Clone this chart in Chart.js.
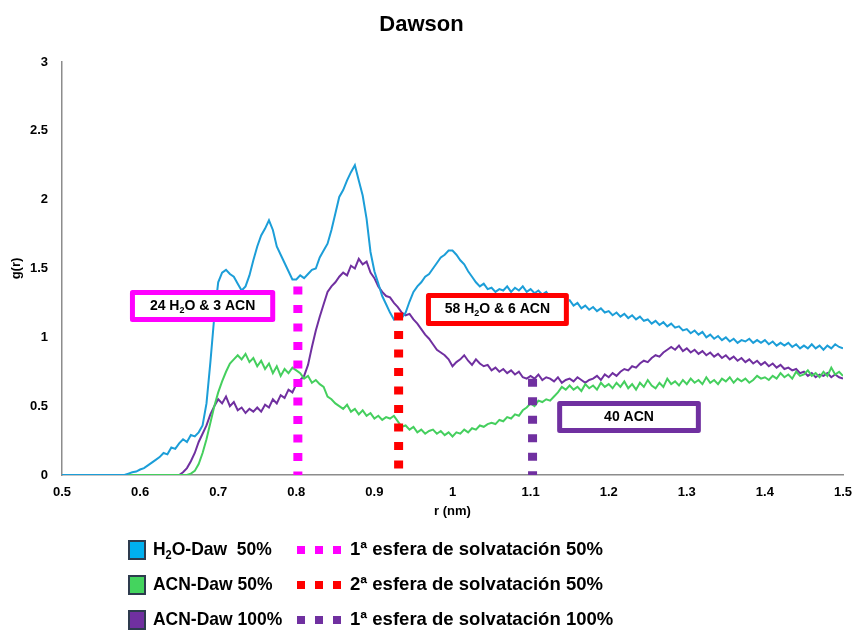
<!DOCTYPE html>
<html><head><meta charset="utf-8">
<script src="https://cdn.jsdelivr.net/npm/chart.js@4.4.1/dist/chart.umd.min.js"></script>
<style>html,body{margin:0;padding:0;background:#fff;}#wrap{width:853px;height:630px;}</style>
</head><body><div id="wrap"><canvas id="c" width="853" height="630"></canvas></div>
<script>
// sampling grid of r (nm)
const rStart = 0.5;
const rStep = 0.005;

// g(r) H2O-Daw 50%
const h2oDaw50 = [
0,0,0,0,0,0,0,0,0,0,
0,0,0,0,0,0,0,0.01,0.02,0.025,
0.04,0.05,0.07,0.09,0.11,0.13,0.16,0.15,0.20,0.19,
0.23,0.26,0.24,0.29,0.28,0.31,0.36,0.52,0.82,1.15,
1.40,1.47,1.49,1.46,1.44,1.39,1.34,1.37,1.45,1.56,
1.66,1.74,1.79,1.85,1.78,1.66,1.60,1.54,1.48,1.42,
1.42,1.45,1.43,1.46,1.49,1.50,1.58,1.63,1.68,1.78,
1.90,2.02,2.07,2.14,2.20,2.25,2.14,2.03,1.86,1.62,
1.48,1.39,1.30,1.24,1.18,1.13,1.15,1.14,1.18,1.26,
1.33,1.37,1.40,1.44,1.46,1.50,1.54,1.58,1.60,1.63,
1.63,1.60,1.56,1.53,1.48,1.44,1.40,1.37,1.39,1.35,
1.36,1.33,1.35,1.34,1.37,1.33,1.36,1.34,1.37,1.33,
1.35,1.32,1.34,1.31,1.33,1.29,1.31,1.27,1.29,1.26,
1.27,1.23,1.25,1.21,1.23,1.20,1.22,1.19,1.21,1.18,
1.19,1.16,1.18,1.15,1.17,1.14,1.16,1.13,1.15,1.12,
1.13,1.10,1.12,1.09,1.11,1.08,1.10,1.07,1.08,1.05,
1.06,1.03,1.05,1.02,1.04,1.00,1.02,0.99,1.01,0.98,
1.00,0.97,0.99,0.96,0.98,0.97,0.99,0.96,0.98,0.96,
0.98,0.95,0.97,0.94,0.96,0.94,0.96,0.93,0.95,0.92,
0.94,0.92,0.95,0.92,0.94,0.91,0.94,0.92,0.95,0.93,
0.92
];

// g(r) ACN-Daw 50%
const acnDaw50 = [
0,0,0,0,0,0,0,0,0,0,
0,0,0,0,0,0,0,0,0,0,
0,0,0,0,0,0,0,0,0,0,
0,0,0,0.01,0.03,0.08,0.16,0.26,0.38,0.50,
0.60,0.68,0.75,0.81,0.84,0.87,0.84,0.88,0.82,0.85,
0.79,0.83,0.77,0.81,0.74,0.79,0.72,0.77,0.74,0.78,
0.76,0.74,0.70,0.72,0.67,0.69,0.66,0.64,0.57,0.55,
0.52,0.50,0.48,0.51,0.46,0.48,0.44,0.47,0.43,0.45,
0.41,0.43,0.40,0.42,0.41,0.43,0.39,0.35,0.36,0.33,
0.35,0.31,0.33,0.30,0.32,0.33,0.30,0.32,0.29,0.31,
0.28,0.31,0.30,0.33,0.31,0.34,0.33,0.36,0.35,0.37,
0.38,0.37,0.40,0.39,0.42,0.41,0.44,0.43,0.47,0.49,
0.52,0.50,0.54,0.53,0.55,0.54,0.57,0.60,0.64,0.62,
0.65,0.62,0.64,0.61,0.66,0.63,0.65,0.62,0.67,0.64,
0.66,0.63,0.67,0.64,0.68,0.63,0.66,0.62,0.67,0.64,
0.69,0.65,0.63,0.67,0.64,0.70,0.66,0.68,0.65,0.69,
0.66,0.70,0.67,0.69,0.66,0.71,0.67,0.69,0.66,0.70,
0.68,0.71,0.67,0.70,0.68,0.70,0.67,0.69,0.72,0.70,
0.71,0.69,0.72,0.70,0.74,0.71,0.73,0.70,0.75,0.72,
0.73,0.76,0.72,0.74,0.71,0.75,0.72,0.78,0.73,0.75,
0.72
];

// g(r) ACN-Daw 100%
const acnDaw100 = [
0,0,0,0,0,0,0,0,0,0,
0,0,0,0,0,0,0,0,0,0,
0,0,0,0,0,0,0,0,0,0,
0,0.02,0.05,0.10,0.16,0.24,0.30,0.36,0.44,0.50,
0.55,0.52,0.57,0.50,0.53,0.47,0.49,0.45,0.48,0.46,
0.49,0.46,0.51,0.49,0.55,0.52,0.58,0.56,0.62,0.60,
0.66,0.69,0.72,0.80,0.93,1.05,1.15,1.24,1.33,1.37,
1.40,1.44,1.47,1.45,1.52,1.50,1.57,1.53,1.55,1.47,
1.43,1.37,1.33,1.30,1.29,1.25,1.22,1.18,1.16,1.17,
1.13,1.10,1.06,1.02,0.99,0.95,0.91,0.89,0.87,0.84,
0.79,0.82,0.84,0.87,0.83,0.80,0.84,0.81,0.79,0.80,
0.76,0.78,0.75,0.77,0.74,0.76,0.73,0.75,0.71,0.70,
0.72,0.70,0.73,0.69,0.71,0.70,0.68,0.71,0.67,0.69,
0.70,0.68,0.71,0.69,0.67,0.69,0.70,0.72,0.69,0.73,
0.71,0.74,0.72,0.75,0.77,0.76,0.79,0.78,0.81,0.83,
0.82,0.85,0.87,0.86,0.89,0.91,0.93,0.91,0.94,0.90,
0.92,0.89,0.91,0.88,0.90,0.87,0.89,0.86,0.88,0.85,
0.87,0.84,0.86,0.83,0.85,0.82,0.84,0.81,0.83,0.80,
0.82,0.79,0.81,0.78,0.80,0.77,0.78,0.76,0.77,0.74,
0.75,0.72,0.74,0.71,0.73,0.72,0.74,0.71,0.73,0.71,
0.70
];

// solvation shell markers
const shellR = [0.802, 0.931, 1.1025];
const shellTop = [1.37, 1.18, 0.70];
const shellNames = ['1ª esfera de solvatación 50%', '2ª esfera de solvatación 50%', '1ª esfera de solvatación 100%'];
const shellCounts = [
  [{t:'24 H'},{t:'2',sub:true},{t:'O & 3 ACN'}],
  [{t:'58 H'},{t:'2',sub:true},{t:'O & 6 ACN'}],
  [{t:'40 ACN'}]
];
const seriesNames = [
  [{t:'H'},{t:'2',sub:true},{t:'O-Daw  50%'}],
  [{t:'ACN-Daw 50%'}],
  [{t:'ACN-Daw 100%'}]
];

// axis ticks
const xTicks = [0.5,0.6,0.7,0.8,0.9,1,1.1,1.2,1.3,1.4,1.5];
const yTicks = [0,0.5,1,1.5,2,2.5,3];

const FONT = '"Liberation Sans", Arial, Helvetica, sans-serif';
const lineColors = ['#1C9ED8', '#45CF5E', '#7030A0'];
const legendFill = ['#00B0F0', '#44D45E', '#7030A0'];
const shellColors = ['#FF00FF', '#FF0000', '#7030A0'];
// annotation box placement in data units [x0, x1, yTop, yBottom]
const boxPos = [[0.587,0.773,1.343,1.111],[0.966,1.149,1.322,1.082],[1.134,1.318,0.537,0.305]];

const rValues = h2oDaw50.map((_, i) => +(rStart + i * rStep).toFixed(4));
const toPts = arr => arr.map((v, i) => ({x: rValues[i], y: v}));

const datasets = [];
shellR.forEach((r, i) => {
  datasets.push({
    label: shellNames[i],
    data: [{x: r, y: shellTop[i]}, {x: r, y: 0}],
    borderColor: shellColors[i], borderWidth: 9, borderDash: [8, 10.5],
    borderCapStyle: 'butt', pointRadius: 0, order: 0, fill: false
  });
});
[h2oDaw50, acnDaw50, acnDaw100].forEach((arr, i) => {
  datasets.push({
    label: 'series' + i, data: toPts(arr), borderColor: lineColors[i],
    borderWidth: 2, pointRadius: 0, tension: 0, order: 1 + i, fill: false
  });
});

function richWidth(ctx, segs, size) {
  let w = 0;
  segs.forEach(s => {
    ctx.font = 'bold ' + (s.sub ? Math.round(size * 0.62) : size) + 'px ' + FONT;
    w += ctx.measureText(s.t).width;
  });
  return w;
}
function drawRich(ctx, segs, x, y, size, align, sx) {
  sx = sx || 1;
  const w = richWidth(ctx, segs, size) * sx;
  let cx = align === 'center' ? x - w / 2 : x;
  ctx.save();
  ctx.translate(cx, y);
  ctx.scale(sx, 1);
  ctx.textBaseline = 'middle';
  ctx.textAlign = 'left';
  ctx.fillStyle = '#000';
  let px = 0;
  segs.forEach(s => {
    const sz = s.sub ? Math.round(size * 0.62) : size;
    ctx.font = 'bold ' + sz + 'px ' + FONT;
    ctx.fillText(s.t, px, s.sub ? size * 0.32 : 0);
    px += ctx.measureText(s.t).width;
  });
  ctx.restore();
}

const overlay = {
  id: 'overlay',
  afterDatasetsDraw(chart) {
    const ctx = chart.ctx, xs = chart.scales.x, ys = chart.scales.y;
    ctx.save();
    boxPos.forEach((b, i) => {
      const x0 = xs.getPixelForValue(b[0]), x1 = xs.getPixelForValue(b[1]);
      const y0 = ys.getPixelForValue(b[2]), y1 = ys.getPixelForValue(b[3]);
      ctx.fillStyle = '#fff';
      ctx.fillRect(x0, y0, x1 - x0, y1 - y0);
      ctx.strokeStyle = shellColors[i];
      ctx.lineWidth = 5;
      ctx.lineJoin = 'round';
      ctx.strokeRect(x0 + 2.5, y0 + 2.5, x1 - x0 - 5, y1 - y0 - 5);
      drawRich(ctx, shellCounts[i], (x0 + x1) / 2, (y0 + y1) / 2, 14, 'center');
    });
    ctx.restore();
  },
  afterDraw(chart) {
    const ctx = chart.ctx;
    ctx.save();
    const rows = [550, 585, 620];
    rows.forEach((y, i) => {
      ctx.fillStyle = legendFill[i];
      ctx.fillRect(129, y - 9, 16, 18);
      ctx.strokeStyle = '#2E3B4E';
      ctx.lineWidth = 2;
      ctx.strokeRect(129, y - 9, 16, 18);
      drawRich(ctx, seriesNames[i], 153, y, 19, 'left', 0.92);
      ctx.fillStyle = shellColors[i];
      [297, 315, 333].forEach(x => ctx.fillRect(x, y - 4, 8, 8));
      drawRich(ctx, [{t: shellNames[i]}], 350, y, 19, 'left', 0.975);
    });
    ctx.restore();
  }
};

const fmt = v => String(+(+v).toFixed(1));

new Chart(document.getElementById('c'), {
  type: 'line',
  data: { datasets },
  plugins: [overlay],
  options: {
    responsive: false, animation: false, devicePixelRatio: 1,
    layout: { padding: { top: 0, right: 10, bottom: 107, left: 0 } },
    plugins: {
      legend: { display: false },
      tooltip: { enabled: false },
      title: { display: true, text: 'Dawson', color: '#000',
        font: { family: FONT, size: 22, weight: 'bold' }, padding: { top: 12, bottom: 23.6 } }
    },
    scales: {
      x: {
        type: 'linear', min: 0.5, max: 1.5,
        afterBuildTicks: s => { s.ticks = xTicks.map(v => ({value: v})); },
        afterFit: s => { s.height = 48; s.paddingRight = 10; s.paddingLeft = 0; },
        grid: { display: false, drawTicks: false },
        border: { display: true, color: '#8C8C8C', width: 1.5 },
        ticks: { padding: 10, color: '#000', font: { family: FONT, size: 13, weight: 'bold' }, callback: fmt, maxRotation: 0, autoSkip: false },
        title: { display: true, text: 'r (nm)', color: '#000', font: { family: FONT, size: 13, weight: 'bold' }, padding: { top: 0, bottom: 4 } }
      },
      y: {
        min: 0, max: 3,
        afterBuildTicks: s => { s.ticks = yTicks.map(v => ({value: v})); },
        afterFit: s => { s.width = 62; },
        grid: { display: false, drawTicks: false },
        border: { display: true, color: '#8C8C8C', width: 1.5 },
        ticks: { padding: 14, color: '#000', font: { family: FONT, size: 13, weight: 'bold' }, callback: fmt },
        title: { display: true, text: 'g(r)', color: '#000', font: { family: FONT, size: 13, weight: 'bold' }, padding: { top: 9, bottom: 0 } }
      }
    }
  }
});
</script>
</body></html>
